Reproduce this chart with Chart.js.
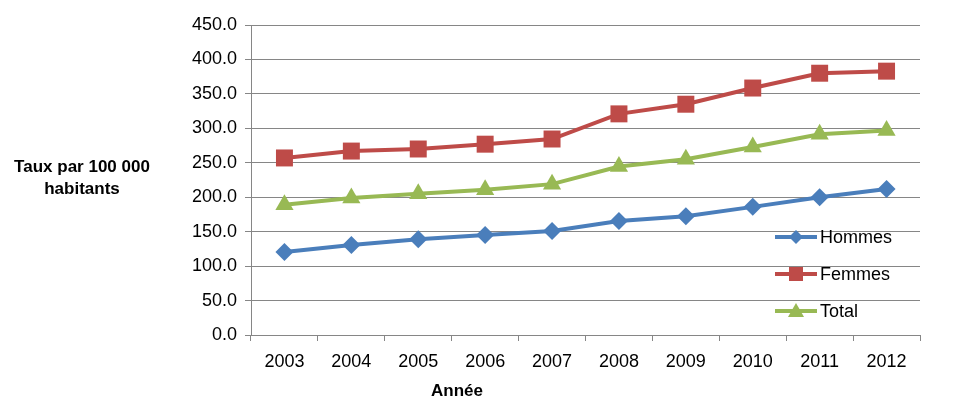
<!DOCTYPE html>
<html>
<head>
    <title>Taux par 100 000 habitants</title>
    <script src="https://cdnjs.cloudflare.com/ajax/libs/Chart.js/4.4.0/chart.umd.min.js"></script>
    <style>
        body { margin: 0; background: #fff; }
        #wrap { width: 967px; height: 415px; }
    </style>
</head>
<body>
    <div id="wrap"><canvas id="tauxChart" width="967" height="415"></canvas></div>

    <script>
        // Data
        var annees = ['2003', '2004', '2005', '2006', '2007', '2008', '2009', '2010', '2011', '2012'];
        var hommes = [120.5, 130.5, 139, 145, 151, 165.5, 172.5, 186, 200, 212];
        var femmes = [257, 267, 270, 277, 284.5, 321, 335, 358.5, 380, 383];
        var total  = [189, 199, 205, 211, 219, 244.5, 255, 273, 291.5, 297];

        var FONT = 'Liberation Sans, Arial, sans-serif';

        // Axis titles and the in-plot legend, drawn by hand like Excel does
        var extras = {
            id: 'extras',
            afterDraw: function (chart) {
                var ctx = chart.ctx;
                ctx.save();
                ctx.fillStyle = '#000';
                ctx.font = 'bold 17px ' + FONT;
                ctx.textAlign = 'center';
                ctx.textBaseline = 'middle';
                ctx.fillText('Taux par 100 000', 82, 167);
                ctx.fillText('habitants', 82, 189);
                ctx.fillText('Année', 457, 391);

                var rows = [237, 274, 311];
                chart.data.datasets.forEach(function (ds, i) {
                    var y = rows[i];
                    ctx.strokeStyle = ds.borderColor;
                    ctx.lineWidth = 4;
                    ctx.beginPath();
                    ctx.moveTo(775, y);
                    ctx.lineTo(817, y);
                    ctx.stroke();
                    ctx.fillStyle = ds.backgroundColor;
                    ctx.beginPath();
                    if (ds.pointStyle === 'rectRot') {
                        ctx.moveTo(796, y - 7); ctx.lineTo(803, y); ctx.lineTo(796, y + 7); ctx.lineTo(789, y);
                    } else if (ds.pointStyle === 'rect') {
                        ctx.rect(789, y - 7, 14, 14);
                    } else {
                        ctx.moveTo(796, y - 8); ctx.lineTo(804, y + 6); ctx.lineTo(788, y + 6);
                    }
                    ctx.closePath();
                    ctx.fill();
                    ctx.fillStyle = '#000';
                    ctx.font = '18px ' + FONT;
                    ctx.textAlign = 'left';
                    ctx.fillText(ds.label, 820, y + 1);
                });
                ctx.restore();
            }
        };

        function serie(label, data, color, style, radius) {
            return {
                label: label,
                data: data,
                borderColor: color,
                backgroundColor: color,
                borderWidth: 4,
                pointStyle: style,
                pointRadius: radius,
                pointHoverRadius: radius,
                pointBorderWidth: 0,
                tension: 0
            };
        }

        var ctx = document.getElementById('tauxChart').getContext('2d');
        new Chart(ctx, {
            type: 'line',
            data: {
                labels: annees,
                datasets: [
                    serie('Hommes', hommes, '#4A7EBB', 'rectRot', 9),
                    serie('Femmes', femmes, '#BE4B48', 'rect', 12),
                    serie('Total', total, '#98B954', 'triangle', 10.5)
                ]
            },
            options: {
                responsive: false,
                animation: false,
                layout: { padding: { top: 25, right: 47, left: 0, bottom: 0 } },
                plugins: { legend: { display: false }, tooltip: { enabled: false } },
                scales: {
                    x: {
                        offset: true,
                        grid: { offset: true, drawOnChartArea: false, color: '#868686', tickLength: 6 },
                        border: { color: '#868686', width: 1 },
                        ticks: { color: '#000', font: { family: FONT, size: 18 }, padding: 10 },
                        afterFit: function (s) { s.height = 80; }
                    },
                    y: {
                        min: 0,
                        max: 450,
                        ticks: {
                            stepSize: 50,
                            color: '#000',
                            font: { family: FONT, size: 18 },
                            padding: 8,
                            callback: function (v) { return v.toFixed(1); }
                        },
                        grid: { color: '#868686', tickLength: 6 },
                        border: { color: '#868686', width: 1 },
                        afterFit: function (s) { s.width = 251; }
                    }
                }
            },
            plugins: [extras]
        });
    </script>
</body>
</html>
